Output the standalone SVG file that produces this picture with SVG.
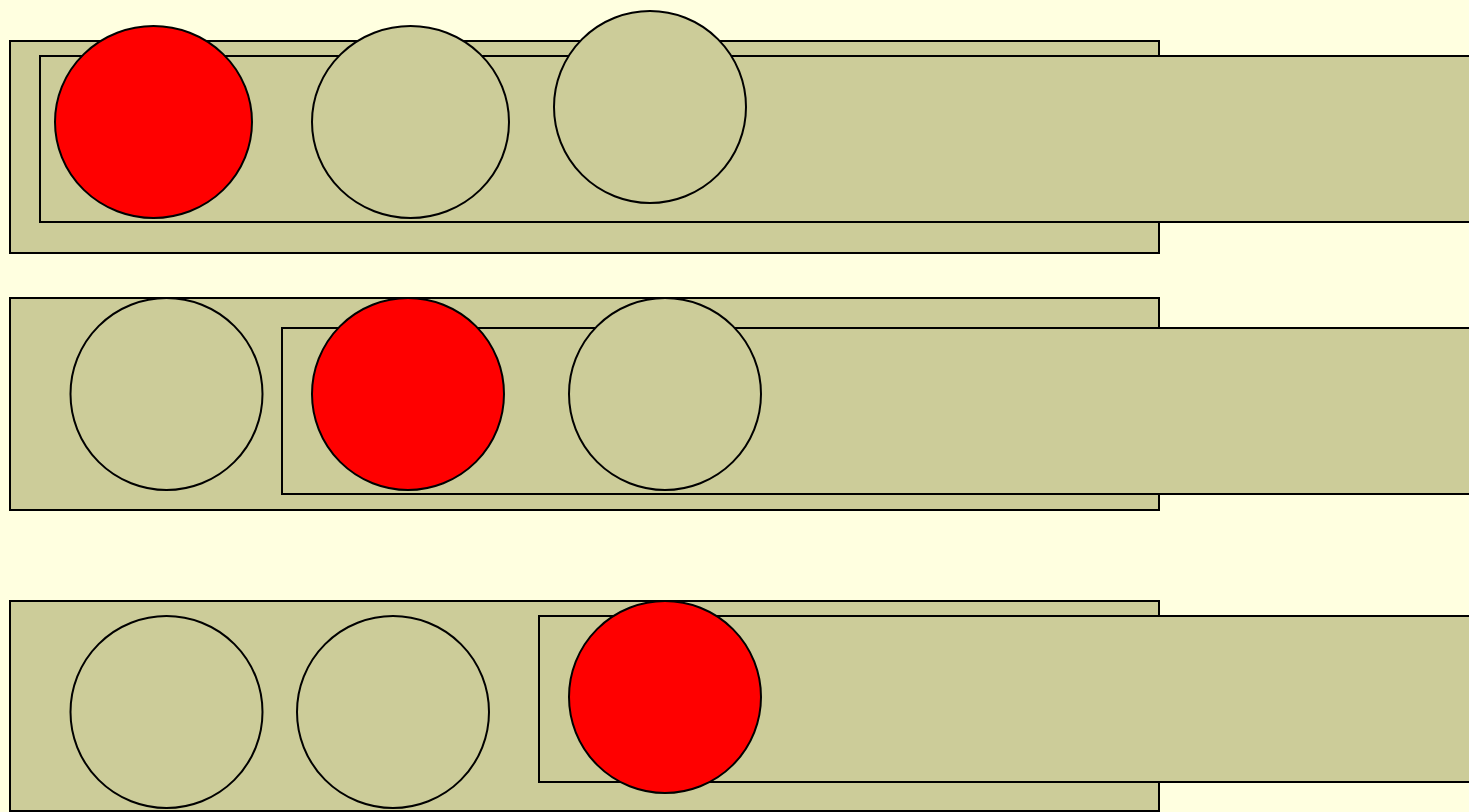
<svg xmlns="http://www.w3.org/2000/svg" width="1469" height="812" viewBox="0 0 1469 812">
<style>
.box{fill:#CCCC99;stroke:#000;stroke-width:2}
.off{fill:#CCCC99;stroke:#000;stroke-width:2}
.on{fill:#FF0000;stroke:#000;stroke-width:2}
</style>
<rect x="0" y="0" width="1469" height="812" fill="#FFFFE0"/>
<g id="row1">
<rect class="box" x="10" y="41" width="1149" height="212"/>
<rect class="box" x="40" y="56" width="1450" height="166"/>
<ellipse id="r1c1" class="on" cx="153.5" cy="122" rx="98.5" ry="96"/>
<ellipse id="r1c2" class="off" cx="410.5" cy="122" rx="98.5" ry="96"/>
<circle id="r1c3" class="off" cx="650" cy="107" r="96"/>
</g>
<g id="row2">
<rect class="box" x="10" y="298" width="1149" height="212"/>
<rect class="box" x="282" y="328" width="1210" height="166"/>
<circle id="r2c1" class="off" cx="166.5" cy="394" r="96"/>
<circle id="r2c2" class="on" cx="408" cy="394" r="96"/>
<circle id="r2c3" class="off" cx="665" cy="394" r="96"/>
</g>
<g id="row3">
<rect class="box" x="10" y="601" width="1149" height="210"/>
<rect class="box" x="539" y="616" width="960" height="166"/>
<circle id="r3c1" class="off" cx="166.5" cy="712" r="96"/>
<circle id="r3c2" class="off" cx="393" cy="712" r="96"/>
<circle id="r3c3" class="on" cx="665" cy="697" r="96"/>
</g>
<g id="connectors"></g>
</svg>
